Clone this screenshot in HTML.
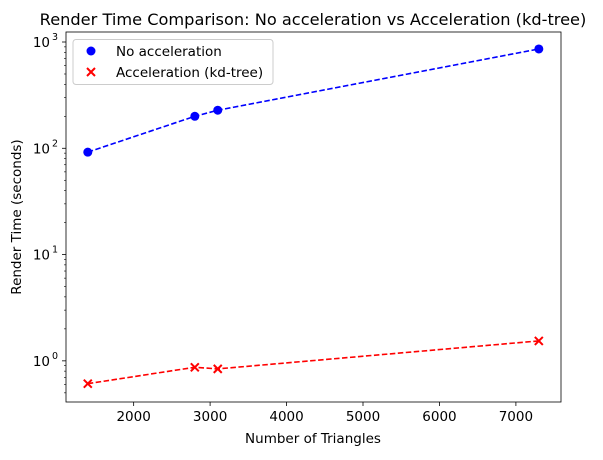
<!DOCTYPE html>
<html><head><meta charset="utf-8"><style>
body{margin:0;background:#fff}
svg text{font-family:"DejaVu Sans","Liberation Sans",sans-serif;fill:#000}
</style></head><body>
<svg id="chart" width="603" height="455" xmlns="http://www.w3.org/2000/svg"></svg>
<script>
const triangles = [1400, 2800, 3100, 7300];
const noAccel = [92, 200, 228, 860];
const kdTree = [0.61, 0.87, 0.84, 1.54];
const xTicks = [2000, 3000, 4000, 5000, 6000, 7000];
const yDecades = [0, 1, 2, 3];

const L=66,R=561,T=32,B=402;
const X0=1115,X1=7590;
const Y0=Math.log10(0.41),Y1=Math.log10(1242);
const sx=v=>L+(v-X0)/(X1-X0)*(R-L);
const sy=v=>B-(Math.log10(v)-Y0)/(Y1-Y0)*(B-T);
const svg=document.getElementById('chart');
const NS='http://www.w3.org/2000/svg';
function mk(tag,attrs,parent){const e=document.createElementNS(NS,tag);for(const k in attrs)e.setAttribute(k,attrs[k]);(parent||svg).appendChild(e);return e;}

let t=mk('text',{x:313,y:25,'text-anchor':'middle','font-size':'16.2'});t.textContent='Render Time Comparison: No acceleration vs Acceleration (kd-tree)';



xTicks.forEach(v=>{
  const g=mk('g',{});
  
  
  mk('line',{x1:sx(v),x2:sx(v),y1:B,y2:B+4,stroke:'#000','stroke-width':0.8},g);
  const tx=mk('text',{x:sx(v),y:B+19,'text-anchor':'middle','font-size':'13.5'},g);tx.textContent=v;
});
yDecades.forEach(d=>{
  const v=Math.pow(10,d);
  const g=mk('g',{});
  
  
  mk('line',{x1:L-4,x2:L,y1:sy(v),y2:sy(v),stroke:'#000','stroke-width':0.8},g);
  const tx=mk('text',{x:L-16,y:sy(v)+5,'text-anchor':'end','font-size':'13.5'},g);
  tx.textContent='10';
  const sp=mk('text',{x:L-8,y:sy(v)-2,'text-anchor':'end','font-size':'9.5'},g);sp.textContent=d;
});
for(let d=-1;d<=3;d++)for(let m=2;m<=9;m++){const v=m*Math.pow(10,d);if(v<0.41||v>1242)continue;
  const ln=mk('line',{x1:L-2,x2:L,y1:sy(v),y2:sy(v),stroke:'#000','stroke-width':0.6});
  
  
}

t=mk('text',{x:313,y:443,'text-anchor':'middle','font-size':'13.5'});t.textContent='Number of Triangles';


t=mk('text',{x:21,y:217,'text-anchor':'middle','font-size':'13.5',transform:'rotate(-90 21 217)'});t.textContent='Render Time (seconds)';



function series(vals,color,marker,name){
  const g=mk('g',{});
  
  
  const pts=triangles.map((x,i)=>sx(x)+','+sy(vals[i])).join(' ');
  mk('polyline',{points:pts,fill:'none',stroke:color,'stroke-width':1.6,'stroke-dasharray':'5.5,2.5'},g);
  triangles.forEach((x,i)=>{
    const cx=sx(x),cy=sy(vals[i]);
    let m;
    if(marker==='o')m=mk('circle',{cx,cy,r:4.5,fill:color},g);
    else m=mk('path',{d:`M${cx-4},${cy-4}L${cx+4},${cy+4}M${cx-4},${cy+4}L${cx+4},${cy-4}`,stroke:color,'stroke-width':2},g);
    
    
  });
}
series(noAccel,'#0000ff','o','no-acceleration');
series(kdTree,'#ff0000','x','kd-tree');

const ax=mk('rect',{x:L,y:T,width:R-L,height:B-T,fill:'none',stroke:'#000','stroke-width':0.8});



const lg=mk('g',{});


mk('rect',{x:73,y:39.5,width:200,height:45,rx:3,fill:'#fff','fill-opacity':0.8,stroke:'#ccc','stroke-width':1},lg);
const l1=mk('circle',{cx:91,cy:51,r:4.5,fill:'#0000ff'},lg);


t=mk('text',{x:116,y:56,'font-size':'13.5'},lg);t.textContent='No acceleration';


const l2=mk('path',{d:'M87,68L95,76M87,76L95,68',stroke:'#ff0000','stroke-width':2},lg);


t=mk('text',{x:116,y:77,'font-size':'13.5'},lg);t.textContent='Acceleration (kd-tree)';


</script>
</body></html>
